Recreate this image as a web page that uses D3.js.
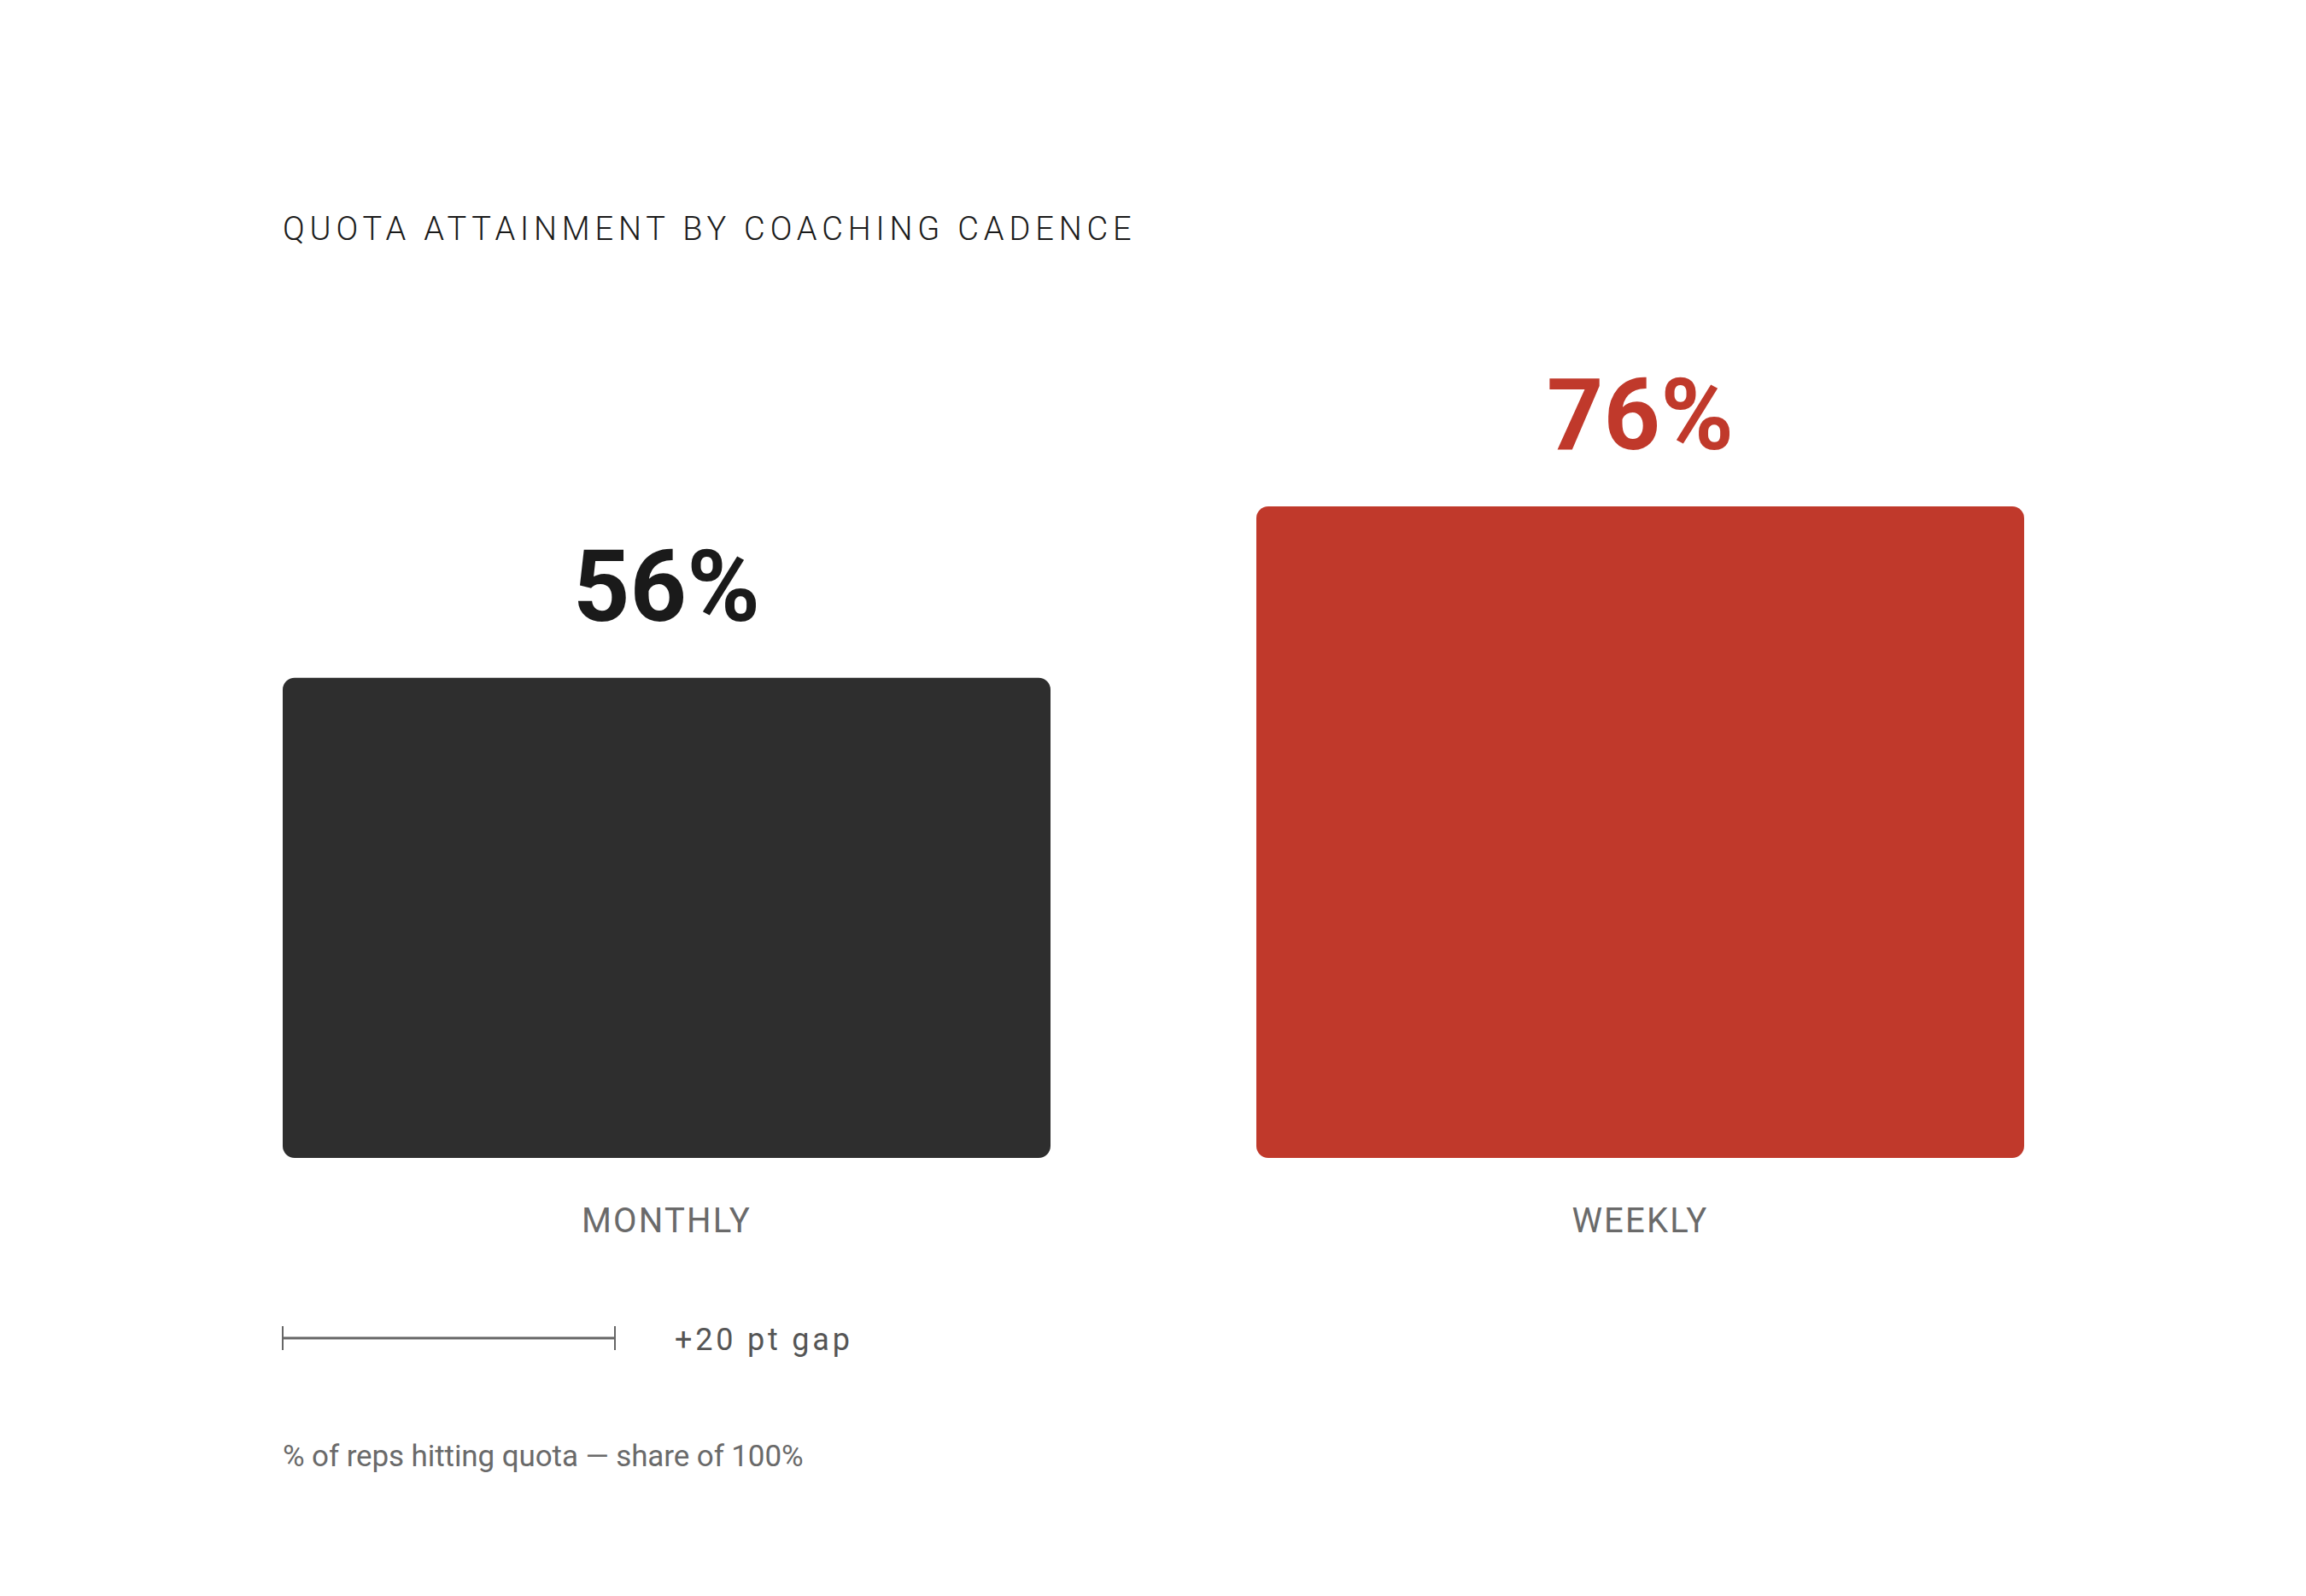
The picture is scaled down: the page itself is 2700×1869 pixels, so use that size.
<!DOCTYPE html>
<html><head><meta charset="utf-8">
<script src="https://cdn.jsdelivr.net/npm/d3@7/dist/d3.min.js"></script>
<style>
html,body{margin:0;padding:0;background:#fff;}
svg{display:block;}
text{font-family:Roboto,"Noto Sans",sans-serif;}
</style></head>
<body>
<div id="chart"></div>
<script>
const categories = ["MONTHLY", "WEEKLY"];
const values = [56, 76];
const valueLabels = ["56%", "76%"];
const barColors = ["#2e2e2e", "#c0392b"];
const labelColors = ["#1a1a1a", "#c0392b"];
const titleText = "QUOTA ATTAINMENT BY COACHING CADENCE";
const gapValue = 20;
const gapLabel = "+20 pt gap";
const footnote = "% of reps hitting quota \u2014 share of 100%";

const W = 2700, H = 1869;
const left = 331, right = 2370, baseline = 1356;

const svg = d3.select("#chart").append("svg").attr("width", W).attr("height", H);

const x = d3.scaleBand().domain(categories).range([left, right]).paddingInner(0.2114).paddingOuter(0);
const y = d3.scaleLinear().domain([0, 100]).range([baseline, baseline - 1004]);
const gapScale = d3.scaleLinear().domain([0, 100]).range([0, 1945]);

svg.append("text").attr("x", left).attr("y", 281)
  .attr("font-size", 38).attr("font-weight", 300).attr("fill", "#1a1a1a")
  .attr("letter-spacing", "5.85px").text(titleText);

const r = 14;
const g = svg.append("g");
categories.forEach((c, i) => {
  const x0 = x(c), w = x.bandwidth(), y0 = y(values[i]), h = baseline - y0;
  g.append("rect").attr("x", x0).attr("y", y0).attr("width", w).attr("height", h)
    .attr("rx", r).attr("ry", r).attr("fill", barColors[i]);
  g.append("text").attr("x", x0 + w/2).attr("y", y0 - 67)
    .attr("text-anchor", "middle").attr("font-size", 116).attr("font-weight", 700)
    .attr("fill", labelColors[i]).text(valueLabels[i]);
  g.append("text").attr("x", x0 + w/2).attr("y", baseline + 87)
    .attr("text-anchor", "middle").attr("font-size", 40).attr("font-weight", 400)
    .attr("fill", "#6a6a6a").attr("letter-spacing", "2.2px").text(c);
});

// gap scale bar
const sy = 1567, gx0 = left, gx1 = left + gapScale(gapValue);
const sb = svg.append("g").attr("stroke", "#666");
sb.append("line").attr("x1", gx0).attr("x2", gx1).attr("y1", sy).attr("y2", sy).attr("stroke-width", 3);
sb.append("line").attr("x1", gx0).attr("x2", gx0).attr("y1", sy-14).attr("y2", sy+14).attr("stroke-width", 2);
sb.append("line").attr("x1", gx1).attr("x2", gx1).attr("y1", sy-14).attr("y2", sy+14).attr("stroke-width", 2);
svg.append("text").attr("x", gx1 + 70).attr("y", 1581)
  .attr("font-size", 36).attr("fill", "#555").attr("letter-spacing", "3.8px").text(gapLabel);

svg.append("text").attr("x", left).attr("y", 1717)
  .attr("font-size", 35).attr("fill", "#6a6a6a").attr("letter-spacing", "-0.1px").text(footnote);
</script>
</body></html>
